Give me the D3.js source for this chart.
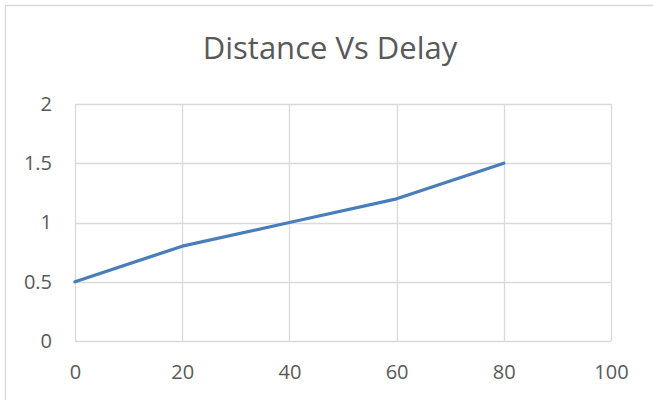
<!DOCTYPE html>
<html><head><meta charset="utf-8">
<script src="https://cdn.jsdelivr.net/npm/d3@7"></script>
<style>html,body{margin:0;padding:0;background:#fff;}svg{display:block;}</style>
</head><body>
<svg id="c" width="653" height="400"></svg>
<script>
const title = "Distance Vs Delay";
const distance = [0, 20, 40, 60, 80];
const delay = [0.5, 0.8, 1.0, 1.2, 1.5];
const xTicks = [0, 20, 40, 60, 80, 100];
const yTicks = [0, 0.5, 1, 1.5, 2];

const svg = d3.select("#c");
const font = "'Open Sans', sans-serif";
const textColor = "#595959";
const gridColor = "#d9d9d9";

// outer chart border (left and top visible)
svg.append("path").attr("d","M5.5,400 V5.5 H653").attr("fill","none").attr("stroke","#d9d9d9").attr("stroke-width",1.3);

const m = {left:75, right:611, top:104, bottom:341};
const x = d3.scaleLinear().domain([0,100]).range([m.left, m.right]);
const y = d3.scaleLinear().domain([0,2]).range([m.bottom, m.top]);

svg.append("text").attr("x",330).attr("y",59).attr("text-anchor","middle")
  .attr("font-family",font).attr("font-size",31).attr("fill",textColor).text(title);

// grid
const g = svg.append("g");
g.selectAll(".h").data(yTicks).enter().append("line")
  .attr("x1",m.left).attr("x2",m.right).attr("y1",d=>Math.round(y(d))+0.5).attr("y2",d=>Math.round(y(d))+0.5)
  .attr("stroke",gridColor).attr("stroke-width",1.3);
g.selectAll(".v").data(xTicks).enter().append("line")
  .attr("y1",m.top).attr("y2",m.bottom).attr("x1",d=>Math.round(x(d))+0.5).attr("x2",d=>Math.round(x(d))+0.5)
  .attr("stroke",gridColor).attr("stroke-width",1.3);

// axes labels via d3 axes
const yAxis = d3.axisLeft(y).tickValues(yTicks).tickSize(0).tickPadding(23).tickFormat(d3.format("~g"));
const ya = svg.append("g").attr("transform",`translate(${m.left},0)`).call(yAxis);
const xAxis = d3.axisBottom(x).tickValues(xTicks).tickSize(0).tickPadding(24).tickFormat(d3.format("~g"));
const xa = svg.append("g").attr("transform",`translate(0,${m.bottom})`).call(xAxis);
[ya,xa].forEach(a=>{
  a.select(".domain").remove();
  a.selectAll("text").attr("font-family",font).attr("font-size",20).attr("fill",textColor);
});

const line = d3.line().x((d,i)=>x(distance[i])).y(d=>y(d));
svg.append("path").datum(delay).attr("d",line).attr("fill","none")
  .attr("stroke","#4a7ebb").attr("stroke-width",3.3).attr("stroke-linejoin","round").attr("stroke-linecap","round");
</script>
</body></html>
